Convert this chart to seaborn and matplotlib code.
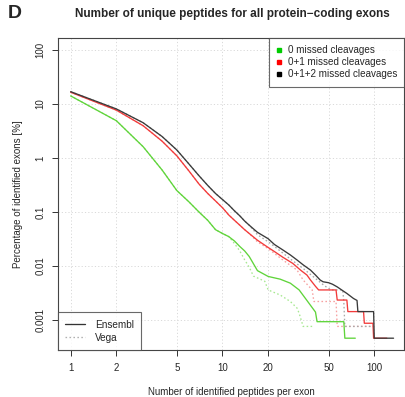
import numpy as np
import pandas as pd
import matplotlib
matplotlib.use("Agg")
import matplotlib.pyplot as plt
import seaborn as sns
from matplotlib.lines import Line2D

# ---------------- data ----------------
cleavage_labels = ["0 missed cleavages", "0+1 missed cleavages", "0+1+2 missed cleavages"]
source_labels = ["Ensembl", "Vega"]

ens0_x = [1, 2, 3, 4, 5, 6, 7, 8, 9, 10, 11, 12, 13, 14, 15, 17, 20, 24, 28, 32, 36, 41, 42, 63, 64, 75]
ens0_y = [14.1, 4.9, 1.62, 0.6, 0.25, 0.155, 0.1, 0.07, 0.047, 0.04, 0.035, 0.029, 0.023, 0.019, 0.015,
          0.0082, 0.0064, 0.0057, 0.0048, 0.0036, 0.0023, 0.0014, 0.00093, 0.00093, 0.00046, 0.00046]

ens1_x = [1, 2, 3, 4, 5, 6, 7, 8, 9, 10, 11, 12, 13, 14, 15, 17, 20, 22, 25, 29, 33, 36, 38, 41, 43,
          56, 57, 66, 67, 85, 86, 98, 99, 121]
ens1_y = [16.5, 7.7, 3.96, 2.05, 1.1, 0.58, 0.33, 0.22, 0.16, 0.12, 0.088, 0.07, 0.057, 0.047, 0.04,
          0.03, 0.022, 0.0185, 0.0145, 0.0112, 0.0082, 0.0068, 0.0055, 0.0042, 0.0036,
          0.0036, 0.00234, 0.00234, 0.00143, 0.00143, 0.00087, 0.00087, 0.00046, 0.00046]

ens2_x = [1, 2, 3, 4, 5, 6, 7, 8, 9, 10, 11, 12, 13, 14, 15, 17, 20, 22, 25, 28, 31, 34, 38, 41, 44,
          46, 50, 53, 57, 61, 66, 73, 77, 78, 99, 100, 134]
ens2_y = [16.9, 8.1, 4.5, 2.5, 1.41, 0.78, 0.47, 0.31, 0.22, 0.17, 0.135, 0.105, 0.085, 0.068, 0.057,
          0.042, 0.032, 0.025, 0.0198, 0.016, 0.0129, 0.0105, 0.0084, 0.0068, 0.0055,
          0.0051, 0.0049, 0.0046, 0.0041, 0.0036, 0.0031, 0.0025, 0.0023, 0.00143, 0.00143, 0.00046, 0.00046]

vega0_x = [1, 2, 3, 4, 5, 6, 7, 8, 9, 10, 11, 12, 13, 14, 15, 16, 19, 20, 24, 28, 31, 32, 33, 34, 40]
vega0_y = [14.1, 4.9, 1.62, 0.6, 0.25, 0.155, 0.1, 0.07, 0.047, 0.04, 0.035, 0.026, 0.019, 0.013, 0.0095,
           0.0065, 0.0052, 0.0036, 0.0029, 0.0022, 0.00166, 0.00133, 0.001, 0.00076, 0.00076]

vega1_x = [1, 2, 3, 4, 5, 6, 7, 8, 9, 10, 11, 12, 13, 14, 15, 17, 20, 25, 31, 34, 39, 40, 56, 57, 98]
vega1_y = [16.5, 7.7, 3.96, 2.05, 1.1, 0.58, 0.33, 0.22, 0.16, 0.12, 0.088, 0.07, 0.057, 0.047, 0.04,
           0.028, 0.021, 0.0129, 0.0084, 0.0055, 0.0036, 0.0022, 0.0022, 0.00076, 0.00076]

vega2_x = [1, 2, 3, 4, 5, 6, 7, 8, 9, 10, 11, 12, 13, 14, 15, 17, 20, 22, 28, 34, 40, 47, 52, 62, 63, 64, 99]
vega2_y = [16.9, 8.1, 4.5, 2.5, 1.41, 0.78, 0.47, 0.31, 0.22, 0.17, 0.135, 0.105, 0.085, 0.068, 0.057,
           0.038, 0.028, 0.023, 0.0135, 0.009, 0.0062, 0.0043, 0.0036, 0.0036, 0.0022, 0.00076, 0.00076]

x_ticks = [1, 2, 5, 10, 20, 50, 100]
x_tick_labels = ["1", "2", "5", "10", "20", "50", "100"]
y_ticks = [0.001, 0.01, 0.1, 1, 10, 100]
y_tick_labels = ["0.001", "0.01", "0.1", "1", "10", "100"]

# ---------------- build long table ----------------
frames = []
for src, xs_list, ys_list in [
    ("Ensembl", [ens0_x, ens1_x, ens2_x], [ens0_y, ens1_y, ens2_y]),
    ("Vega", [vega0_x, vega1_x, vega2_x], [vega0_y, vega1_y, vega2_y]),
]:
    for lab, xs, ys in zip(cleavage_labels, xs_list, ys_list):
        frames.append(pd.DataFrame({"peptides": xs, "pct": ys, "cleavage": lab, "source": src}))
df = pd.concat(frames, ignore_index=True)

# ---------------- figure ----------------
sns.set_style("white")
plt.rcParams["font.family"] = ["Liberation Sans", "DejaVu Sans"]

fig = plt.figure(figsize=(4.06, 3.97), dpi=100)
ax = fig.add_axes([58 / 406, 1 - 350 / 397, (404 - 58) / 406, (350 - 38) / 397])

line_cols = {"0 missed cleavages": "#5fd43a",
             "0+1 missed cleavages": "#f23a3a",
             "0+1+2 missed cleavages": "#3a3a3a"}
dot_cols = {"0 missed cleavages": "#a6e890",
            "0+1 missed cleavages": "#f7a0a0",
            "0+1+2 missed cleavages": "#a8a8a8"}

# Vega (dotted) first, then Ensembl (solid)
vdf = df[df.source == "Vega"]
sns.lineplot(data=vdf, x="peptides", y="pct", hue="cleavage", palette=dot_cols,
             estimator=None, sort=True, legend=False, ax=ax, lw=0.95,
             hue_order=cleavage_labels)
for ln in ax.get_lines():
    ln.set_linestyle((0, (1.2, 1.8)))
edf = df[df.source == "Ensembl"]
sns.lineplot(data=edf, x="peptides", y="pct", hue="cleavage", palette=line_cols,
             estimator=None, sort=True, legend=False, ax=ax, lw=0.95,
             hue_order=cleavage_labels)

ax.set_xscale("log")
ax.set_yscale("log")
ax.set_xlim(0.825, 157)
ax.set_ylim(0.000278, 166.8)

ax.set_xticks(x_ticks)
ax.set_xticklabels(x_tick_labels)
ax.set_yticks(y_ticks)
ax.set_yticklabels(y_tick_labels, rotation=90, va="center")
ax.minorticks_off()
ax.tick_params(axis="both", which="major", length=4, width=0.7, color="#333333",
               labelsize=7, pad=5, direction="out", bottom=True, left=True)
ax.tick_params(axis="x", pad=5.5)

for v in x_ticks:
    ax.axvline(v, color="#d9d9d9", lw=0.7, ls=(0, (1.2, 2.2)), zorder=0)
for v in y_ticks:
    ax.axhline(v, color="#d9d9d9", lw=0.7, ls=(0, (1.2, 2.2)), zorder=0)

for s in ax.spines.values():
    s.set_color("#444444")
    s.set_linewidth(0.8)

ax.set_xlabel("Number of identified peptides per exon", fontsize=7, labelpad=10)
ax.set_ylabel("Percentage of identified exons [%]", fontsize=7, labelpad=9)

fig.text(232 / 406, 1 - 14 / 397, "Number of unique peptides for all protein\u2212coding exons",
         ha="center", va="center", fontsize=8.5, fontweight="bold")
fig.text(8 / 406, 1 - 14 / 397, "D", ha="left", va="center", fontsize=14, fontweight="bold")

# cleavage legend (top right)
handles1 = [Line2D([], [], marker="s", ls="none", color=c, markersize=3.4)
            for c in ["#00cc00", "#ff0000", "#000000"]]
leg1 = ax.legend(handles1, cleavage_labels, loc="upper right", fontsize=7.1, frameon=True,
                 fancybox=False, edgecolor="#444444", borderpad=0.72, handlelength=0.6,
                 handletextpad=0.6, labelspacing=0.22, borderaxespad=0)
leg1.get_frame().set_linewidth(0.8)
ax.add_artist(leg1)

# source legend (bottom left)
handles2 = [Line2D([], [], color="#333333", lw=0.95),
            Line2D([], [], color="#b0b0b0", lw=0.95, ls=(0, (1.2, 1.8)))]
leg2 = ax.legend(handles2, source_labels, loc="lower left", fontsize=7.2, frameon=True,
                 fancybox=False, edgecolor="#444444", borderpad=0.72, handlelength=2.0,
                 handletextpad=1.0, labelspacing=0.32, borderaxespad=0)
leg2.get_frame().set_linewidth(0.8)

fig.savefig("out.png", dpi=100, facecolor="white")
